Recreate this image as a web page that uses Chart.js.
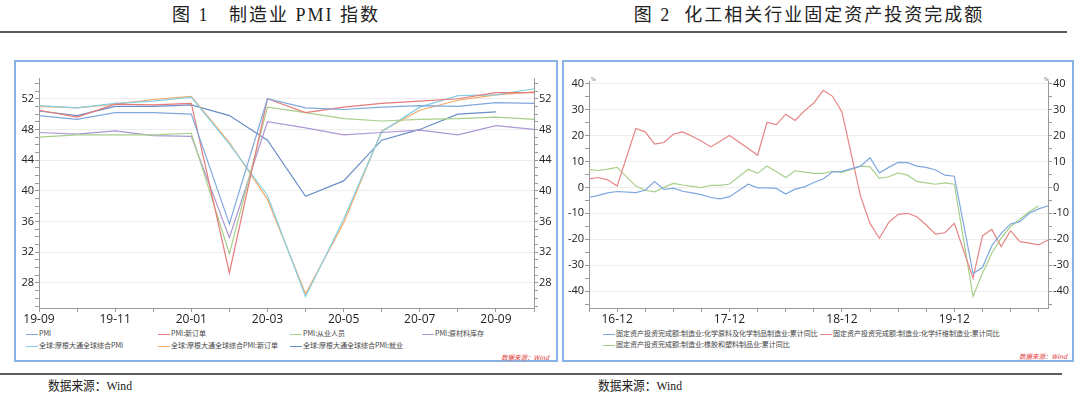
<!DOCTYPE html>
<html><head><meta charset="utf-8">
<script src="https://cdn.jsdelivr.net/npm/chart.js@4"></script>
<style>
html,body{margin:0;padding:0;background:#fff;}
body{width:1080px;height:396px;position:relative;overflow:hidden;font-family:"Liberation Serif","Noto Sans CJK SC",serif;}
.abs{position:absolute;}
.title{top:6px;font-size:18px;line-height:18px;letter-spacing:2px;color:#222;white-space:nowrap;transform:translateX(-50%);font-family:"Liberation Serif","Noto Sans CJK SC",serif;}
.rule{height:2px;background:#5c5c5c;}
.box{border:2px solid #88b2e4;box-sizing:border-box;}
.leg{font-family:"Noto Sans CJK SC",sans-serif;font-size:7px;line-height:8px;color:#444;white-space:nowrap;}
.leg i{display:inline-block;width:12px;height:1px;vertical-align:middle;margin-right:1px;}
.src{font-family:"Noto Sans CJK SC",sans-serif;font-size:6.5px;color:#e23b3b;font-style:italic;white-space:nowrap;}
.foot{font-size:13px;line-height:14px;color:#222;white-space:nowrap;font-family:"Liberation Serif","Noto Sans CJK SC",serif;transform:scaleX(0.9);transform-origin:left center;}
.pct{font-family:"DejaVu Sans",sans-serif;font-size:5px;color:#666;}
canvas{position:absolute;}
</style>
</head>
<body>
<div class="abs title" style="left:276px;">图 1&nbsp;&nbsp;&nbsp;制造业 PMI 指数</div>
<div class="abs title" style="left:809px;">图 2&nbsp;&nbsp;化工相关行业固定资产投资完成额</div>
<div class="abs rule" style="left:0;top:31px;width:1067px;"></div>

<div class="abs box" style="left:14px;top:60px;width:544px;height:302px;"></div>
<div class="abs box" style="left:562px;top:60px;width:512px;height:302px;"></div>

<canvas id="c1" width="540" height="262" style="left:16px;top:66px;width:540px;height:262px;"></canvas>
<canvas id="c2" width="505" height="262" style="left:565px;top:66px;width:505px;height:262px;"></canvas>

<div id="leg1"></div>
<div id="leg2"></div>

<div class="abs src" style="left:501px;top:352px;">数据来源：Wind</div>
<div class="abs src" style="left:1019px;top:351px;">数据来源：Wind</div>
<div class="abs pct" style="left:591px;top:76px;">%</div>
<div class="abs pct" style="left:1044px;top:76px;">%</div>

<div class="abs rule" style="left:0;top:373px;width:1062px;"></div>
<div class="abs foot" style="left:48px;top:379px;">数据来源：Wind</div>
<div class="abs foot" style="left:598px;top:379px;">数据来源：Wind</div>

<script>
// ---------- Chart 1 data ----------
const leftCategories = ['19-09','19-10','19-11','19-12','20-01','20-02','20-03','20-04','20-05','20-06','20-07','20-08','20-09','20-10'];
const leftXTickLabels = ['19-09','19-11','20-01','20-03','20-05','20-07','20-09'];
const leftYTickLabels = [28,32,36,40,44,48,52];
const leftNames = ['PMI','PMI:新订单','PMI:从业人员','PMI:原材料库存','全球:摩根大通全球综合PMI','全球:摩根大通全球综合PMI:新订单','全球:摩根大通全球综合PMI:就业'];
const pmi        = [49.8,49.3,50.2,50.2,50.0,35.7,52.0,50.8,50.6,50.9,51.1,51.0,51.5,51.4];
const pmiNewOrd  = [50.5,49.6,51.3,51.2,51.4,29.3,52.0,50.2,50.9,51.4,51.7,52.0,52.8,52.8];
const pmiEmploy  = [47.0,47.3,47.3,47.3,47.5,31.8,50.9,50.2,49.4,49.1,49.3,49.4,49.6,49.3];
const pmiRawInv  = [47.6,47.4,47.8,47.2,47.1,33.9,49.0,48.2,47.3,47.6,47.9,47.3,48.5,48.0];
const globalPmi  = [51.1,50.8,51.4,51.7,52.2,46.1,39.4,26.2,36.3,47.7,50.9,52.4,52.5,53.3];
const globalNO   = [51.0,50.8,51.3,51.9,52.3,46.3,38.9,26.6,35.8,47.8,50.5,51.8,52.5,52.9];
const globalEmp  = [50.4,49.8,51.0,51.0,51.2,49.8,46.6,39.3,41.3,46.6,48.0,50.0,50.3,null];

// ---------- Chart 2 data ----------
const rightCategories = ['16-09','16-10','16-11','16-12',
 '17-01','17-02','17-03','17-04','17-05','17-06','17-07','17-08','17-09','17-10','17-11','17-12',
 '18-01','18-02','18-03','18-04','18-05','18-06','18-07','18-08','18-09','18-10','18-11','18-12',
 '19-01','19-02','19-03','19-04','19-05','19-06','19-07','19-08','19-09','19-10','19-11','19-12',
 '20-01','20-02','20-03','20-04','20-05','20-06','20-07','20-08','20-09','20-10'];
const rightXTickLabels = ['16-12','17-12','18-12','19-12'];
const rightYTickLabels = [-40,-30,-20,-10,0,10,20,30,40];
const rightNames = ['固定资产投资完成额:制造业:化学原料及化学制品制造业:累计同比','固定资产投资完成额:制造业:化学纤维制造业:累计同比','固定资产投资完成额:制造业:橡胶和塑料制品业:累计同比'];
const chemRaw = [-3.9,-3.1,-2.1,-1.6,null,-2.0,-1.1,2.2,-0.8,-0.3,-1.5,-2.1,-2.8,-3.9,-4.4,-3.6,null,1.2,-0.2,-0.2,-0.4,-2.6,-0.7,0.2,1.9,3.2,6.0,6.2,null,8.2,11.4,5.6,7.7,9.6,9.5,8.2,7.7,6.7,4.7,4.3,null,-33.2,-30.9,-22.5,-17.7,-14.1,-13.2,-10.0,-8.3,-7.1];
const chemFiber = [3.3,3.8,2.9,0.5,null,22.7,21.4,16.7,17.3,20.5,21.4,19.7,17.9,15.6,17.8,20.0,null,15.0,12.4,25.0,24.2,28.2,25.8,29.5,32.5,37.4,35.1,29.1,null,-3.6,-13.9,-19.6,-13.5,-10.4,-10.0,-11.3,-14.5,-18.0,-17.5,-13.9,null,-35.0,-18.7,-16.2,-22.8,-16.7,-20.9,-21.5,-22.2,-20.3];
const rubberPlastic = [6.9,6.5,7.0,7.7,null,0.5,-1.1,-1.7,0.0,1.5,0.9,0.4,-0.1,0.8,0.8,1.3,null,7.0,5.4,8.2,6.0,3.8,6.4,5.9,5.4,5.4,6.2,5.8,null,8.2,7.9,3.5,4.1,5.6,4.7,2.3,1.7,1.2,1.7,1.2,null,-42.1,-33.1,-25.4,-19.6,-15.1,-12.3,-9.4,-7.2,null];

// ---------- styles ----------
const leftColors = ['#7fa8dc','#e57b7b','#a8cf8a','#ad97d4','#86d0e4','#f5a865','#6b8ec6'];
const rightColors = ['#7ea8e0','#e58585','#a8cf8a'];

function lineDs(label, data, color){
  return {label, data, borderColor:color, backgroundColor:color, borderWidth:1.2, pointRadius:0, tension:0, spanGaps:true};
}

function yAxis(pos, min, max, step, labels, width, showGrid){
  return {
    type:'linear', position:pos, min, max,
    afterFit: s => { s.width = width; },
    border:{color:'#9a9a9a', width:1},
    grid:{
      drawOnChartArea: showGrid,
      color: ctx => labels.includes(ctx.tick && ctx.tick.value) ? '#eeeeee' : 'rgba(0,0,0,0)',
      tickColor:'#9a9a9a', tickLength:4, lineWidth:1
    },
    ticks:{
      stepSize:step, includeBounds:false, autoSkip:false, padding:1,
      color:'#222', font:{family:'Open Sans', size:11},
      callback: v => labels.includes(v) ? String(v) : ''
    }
  };
}

function xAxis(cats, tickLabels, tickEvery){
  return {
    type:'category', offset:false,
    afterFit: s => { s.height = 20; },
    border:{color:'#9a9a9a', width:1},
    grid:{
      drawOnChartArea:false, tickLength:4,
      tickColor: ctx => (ctx.index % tickEvery === 0) ? '#9a9a9a' : 'rgba(0,0,0,0)'
    },
    ticks:{
      autoSkip:false, maxRotation:0, minRotation:0, padding:0,
      color:'#222', font:{family:'Open Sans', size:12},
      callback: (v, i) => tickLabels.includes(cats[i]) ? cats[i] : ''
    }
  };
}

const baseOpts = {
  responsive:false, animation:false, maintainAspectRatio:false,
  plugins:{legend:{display:false}, tooltip:{enabled:false}, title:{display:false}}
};

// Chart 1
new Chart(document.getElementById('c1'), {
  type:'line',
  data:{
    labels:leftCategories,
    datasets:[
      lineDs(leftNames[0], pmi, leftColors[0]),
      lineDs(leftNames[1], pmiNewOrd, leftColors[1]),
      lineDs(leftNames[2], pmiEmploy, leftColors[2]),
      lineDs(leftNames[3], pmiRawInv, leftColors[3]),
      lineDs(leftNames[4], globalPmi, leftColors[4]),
      lineDs(leftNames[5], globalNO, leftColors[5]),
      lineDs(leftNames[6], globalEmp, leftColors[6])
    ]
  },
  options:Object.assign({}, baseOpts, {
    layout:{padding:{top:12, left:0, right:0, bottom:0}},
    scales:{
      x: xAxis(leftCategories, leftXTickLabels, 1),
      y: yAxis('left', 24.74, 54.7, 1, leftYTickLabels, 23, true),
      y2: yAxis('right', 24.74, 54.7, 1, leftYTickLabels, 22, false)
    }
  })
});

// Chart 2
new Chart(document.getElementById('c2'), {
  type:'line',
  data:{
    labels:rightCategories,
    datasets:[
      lineDs(rightNames[0], chemRaw, rightColors[0]),
      lineDs(rightNames[1], chemFiber, rightColors[1]),
      lineDs(rightNames[2], rubberPlastic, rightColors[2])
    ]
  },
  options:Object.assign({}, baseOpts, {
    layout:{padding:{top:15, left:0, right:0, bottom:0}},
    scales:{
      x: xAxis(rightCategories, rightXTickLabels, 3),
      y: yAxis('left', -46.5, 41, 5, rightYTickLabels, 24, true),
      y2: yAxis('right', -46.5, 41, 5, rightYTickLabels, 22, false)
    }
  })
});

// HTML legends
function buildLegend(id, names, colors, x0, y0, colW, rowH, perRow){
  const el = document.getElementById(id);
  names.forEach((n, i) => {
    const d = document.createElement('div');
    d.className = 'abs leg';
    d.style.left = (x0 + (i % perRow) * colW) + 'px';
    d.style.top = (y0 + Math.floor(i / perRow) * rowH) + 'px';
    const sw = document.createElement('i');
    sw.style.background = colors[i];
    d.appendChild(sw);
    d.appendChild(document.createTextNode(n));
    el.appendChild(d);
  });
}
buildLegend('leg1', leftNames, leftColors, 26, 329, 132, 12, 4);
buildLegend('leg2', rightNames, rightColors, 603, 329, 217, 11, 2);
</script>
</body></html>
